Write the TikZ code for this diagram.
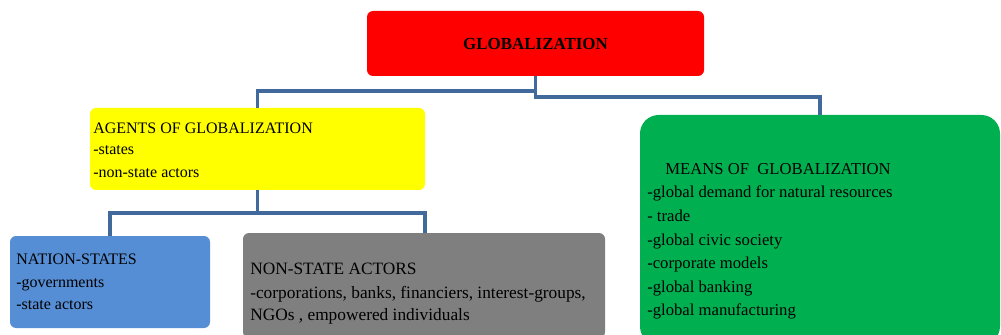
\documentclass[tikz,border=0pt]{standalone}
\usepackage{fontspec}
\setmainfont{Liberation Serif}
\definecolor{cred}{HTML}{FF0000}
\definecolor{cyellow}{HTML}{FFFF00}
\definecolor{cblue}{HTML}{558ED5}
\definecolor{cgray}{HTML}{7F7F7F}
\definecolor{cgreen}{HTML}{00B050}
\definecolor{cline}{HTML}{41699C}
\begin{document}
\begin{tikzpicture}[x=0.75pt,y=-0.75pt,
  box/.style={rectangle, rounded corners=4.5pt, inner sep=0pt, draw=none},
  txt/.style={anchor=base west, inner sep=0pt, font=\fontsize{12}{14}\selectfont},
  txtg/.style={txt, font=\fontsize{13}{15}\selectfont},
  txtm/.style={txt, font=\fontsize{12.5}{15}\selectfont},
  conn/.style={draw=cline, line width=2.8pt}]
\useasboundingbox (0,0) rectangle (1001,335);
\clip (0,0) rectangle (1001,335);
% boxes
\node[box, fill=cred, minimum width=252.75pt, minimum height=48.75pt] (glob) at (535.5,43.5) {};
\node[box, fill=cyellow, minimum width=251.25pt, minimum height=61.5pt] (agents) at (257.5,149) {};
\node[box, fill=cblue, minimum width=150pt, minimum height=69pt] (nation) at (110,282) {};
\node[box, fill=cgray, minimum width=271.5pt, minimum height=78.75pt] (nonstate) at (424,285.5) {};
\node[box, fill=cgreen, rounded corners=14pt, minimum width=270pt, minimum height=172.5pt] (means) at (820,230) {};
% connectors
\coordinate (j1) at (535.5,91);
\draw[conn] (glob.south) -- (535.5,97) -| (means.north);
\draw[conn] (j1) -| (agents.north);
\draw[conn] (agents.south) -- (257.5,213) -| (nation.north);
\draw[conn] (257.5,213) -| (425,233);
% texts
\node[anchor=base, inner sep=0pt, font=\fontsize{12.7}{14}\selectfont\bfseries] (tglob) at (535.5,50) {GLOBALIZATION};
\node[txt] (ta1) at (93,133) {AGENTS OF GLOBALIZATION};
\node[txt] (ta2) at (93,155) {-states};
\node[txt] (ta3) at (93,178) {-non-state actors};
\node[txt] (tn1) at (16,264) {NATION-STATES};
\node[txt] (tn2) at (16,287) {-governments};
\node[txt] (tn3) at (16,309) {-state actors};
\node[txtg] (to1) at (250,274) {NON-STATE ACTORS};
\node[txtg] (to2) at (250,298) {-corporations, banks, financiers, interest-groups,};
\node[txtg] (to3) at (250,320) {NGOs , empowered individuals};
\node[txtm] (tm0) at (665,175) {MEANS OF\ \ GLOBALIZATION};
\node[txtm] (tm1) at (647,198) {-global demand for natural resources};
\node[txtm] (tm2) at (647,221) {- trade};
\node[txtm] (tm3) at (647,245) {-global civic society};
\node[txtm] (tm4) at (647,268) {-corporate models};
\node[txtm] (tm5) at (647,292) {-global banking};
\node[txtm] (tm6) at (647,315) {-global manufacturing};
\end{tikzpicture}
\end{document}
